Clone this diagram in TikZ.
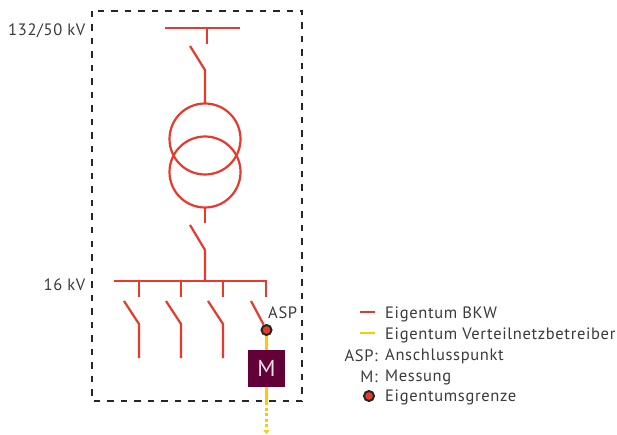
\documentclass[tikz,border=0pt]{standalone}
\usepackage{fontspec}
\setmainfont{PT Sans}[LetterSpace=4]
\usetikzlibrary{arrows.meta}
\definecolor{bkw}{HTML}{E8392B}
\definecolor{vnb}{HTML}{FFC800}
\definecolor{txt}{HTML}{3A3A3A}
\definecolor{mbox}{HTML}{640038}
\tikzset{
  red line/.style={draw=bkw,line width=2.2pt},
  yellow line/.style={draw=vnb,line width=2.2pt},
  frame line/.style={draw=black!85,line width=2.3pt,dash pattern=on 6.5pt off 7pt},
  label text/.style={font=\fontsize{16.5}{18}\selectfont,text=txt,inner sep=0pt},
  prop dot/.style={circle,draw=black!85,fill=bkw,line width=2pt,minimum size=10pt,inner sep=0pt},
}
\begin{document}
\begin{tikzpicture}[x=1pt,y=-1pt]
\useasboundingbox (0,0) rectangle (617,435);
% frame
\coordinate (fa) at (92,11); \coordinate (fb) at (302,401);
\draw[frame line] (fa) rectangle (fb);
% top bus
\coordinate (tl) at (165,28); \coordinate (tr) at (240,28);
\coordinate (t1) at (207,28); \coordinate (t2) at (207,44);
\draw[red line] (tl) -- (tr) (t1) -- (t2);
% switch 1
\coordinate (s1a) at (190,46); \coordinate (s1b) at (205,70); \coordinate (c1) at (205,139);
\draw[red line] (s1a) -- (s1b) -- (205,104);
% transformer
\draw[red line] (c1) circle (35.5);
\coordinate (c2) at (205,172);
\draw[red line] (c2) circle (35.5);
% lower
\coordinate (l1) at (205,207.5); \coordinate (l2) at (205,223);
\draw[red line] (l1) -- (l2);
\coordinate (s2a) at (190,225); \coordinate (s2b) at (205,250);
\coordinate (bus) at (205,281);
\draw[red line] (s2a) -- (s2b) -- (bus);
% busbar
\coordinate (bl) at (114,281); \coordinate (br) at (266,281);
\draw[red line] (bl) -- (br) -- (266,297);
\foreach \x in {139,181,223}{
  \draw[red line] (\x,281) -- (\x,297);
  \draw[red line] (\x-15,301) -- (\x,324) -- (\x,358);
}
\coordinate (s3a) at (251,301);
% yellow
\node[fill=mbox,draw=mbox,minimum size=36pt,inner sep=0pt,font=\fontsize{23}{23}\selectfont,text=white!88!mbox] (M) at (266.5,368.5) {M};
\node[prop dot] (asp) at (266.5,330) {};
\draw[red line] (s3a) -- (asp);
\draw[yellow line] (asp) -- (M);
\coordinate (y1) at (266.5,402);
\coordinate (y2) at (266.5,434);
\draw[yellow line] (M) -- (y1);
\draw[yellow line,dash pattern=on 3pt off 2.5pt,-{Triangle[length=4pt,width=6pt]}] (y1) -- (y2);
% labels
\node[label text,anchor=east] (n132) at (85.5,31) {132/50 kV};
\node[label text,anchor=east] (n16) at (85.5,284.5) {16 kV};
\node[label text,anchor=west] (nasp) at (268,312.5) {ASP};
% legend
\coordinate (la1) at (360,312); \coordinate (la2) at (375,312);
\coordinate (lb1) at (360,333); \coordinate (lb2) at (375,333);
\draw[red line] (la1) -- (la2);
\draw[yellow line] (lb1) -- (lb2);
\node[label text,anchor=west] (e1) at (385,314) {Eigentum BKW};
\node[label text,anchor=west] (e2) at (385,335) {Eigentum Verteilnetzbetreiber};
\node[label text,anchor=west] (e3) at (385,356) {Anschlusspunkt};
\node[label text,anchor=west] (e4) at (385,377) {Messung};
\node[label text,anchor=west] (e5) at (385,397) {Eigentumsgrenze};
\node[label text,anchor=east] (k3) at (378,356) {ASP:};
\node[label text,anchor=east] (k4) at (378,377) {M:};
\node[prop dot,minimum size=10pt] (k5) at (369,396) {};
\end{tikzpicture}
\end{document}
